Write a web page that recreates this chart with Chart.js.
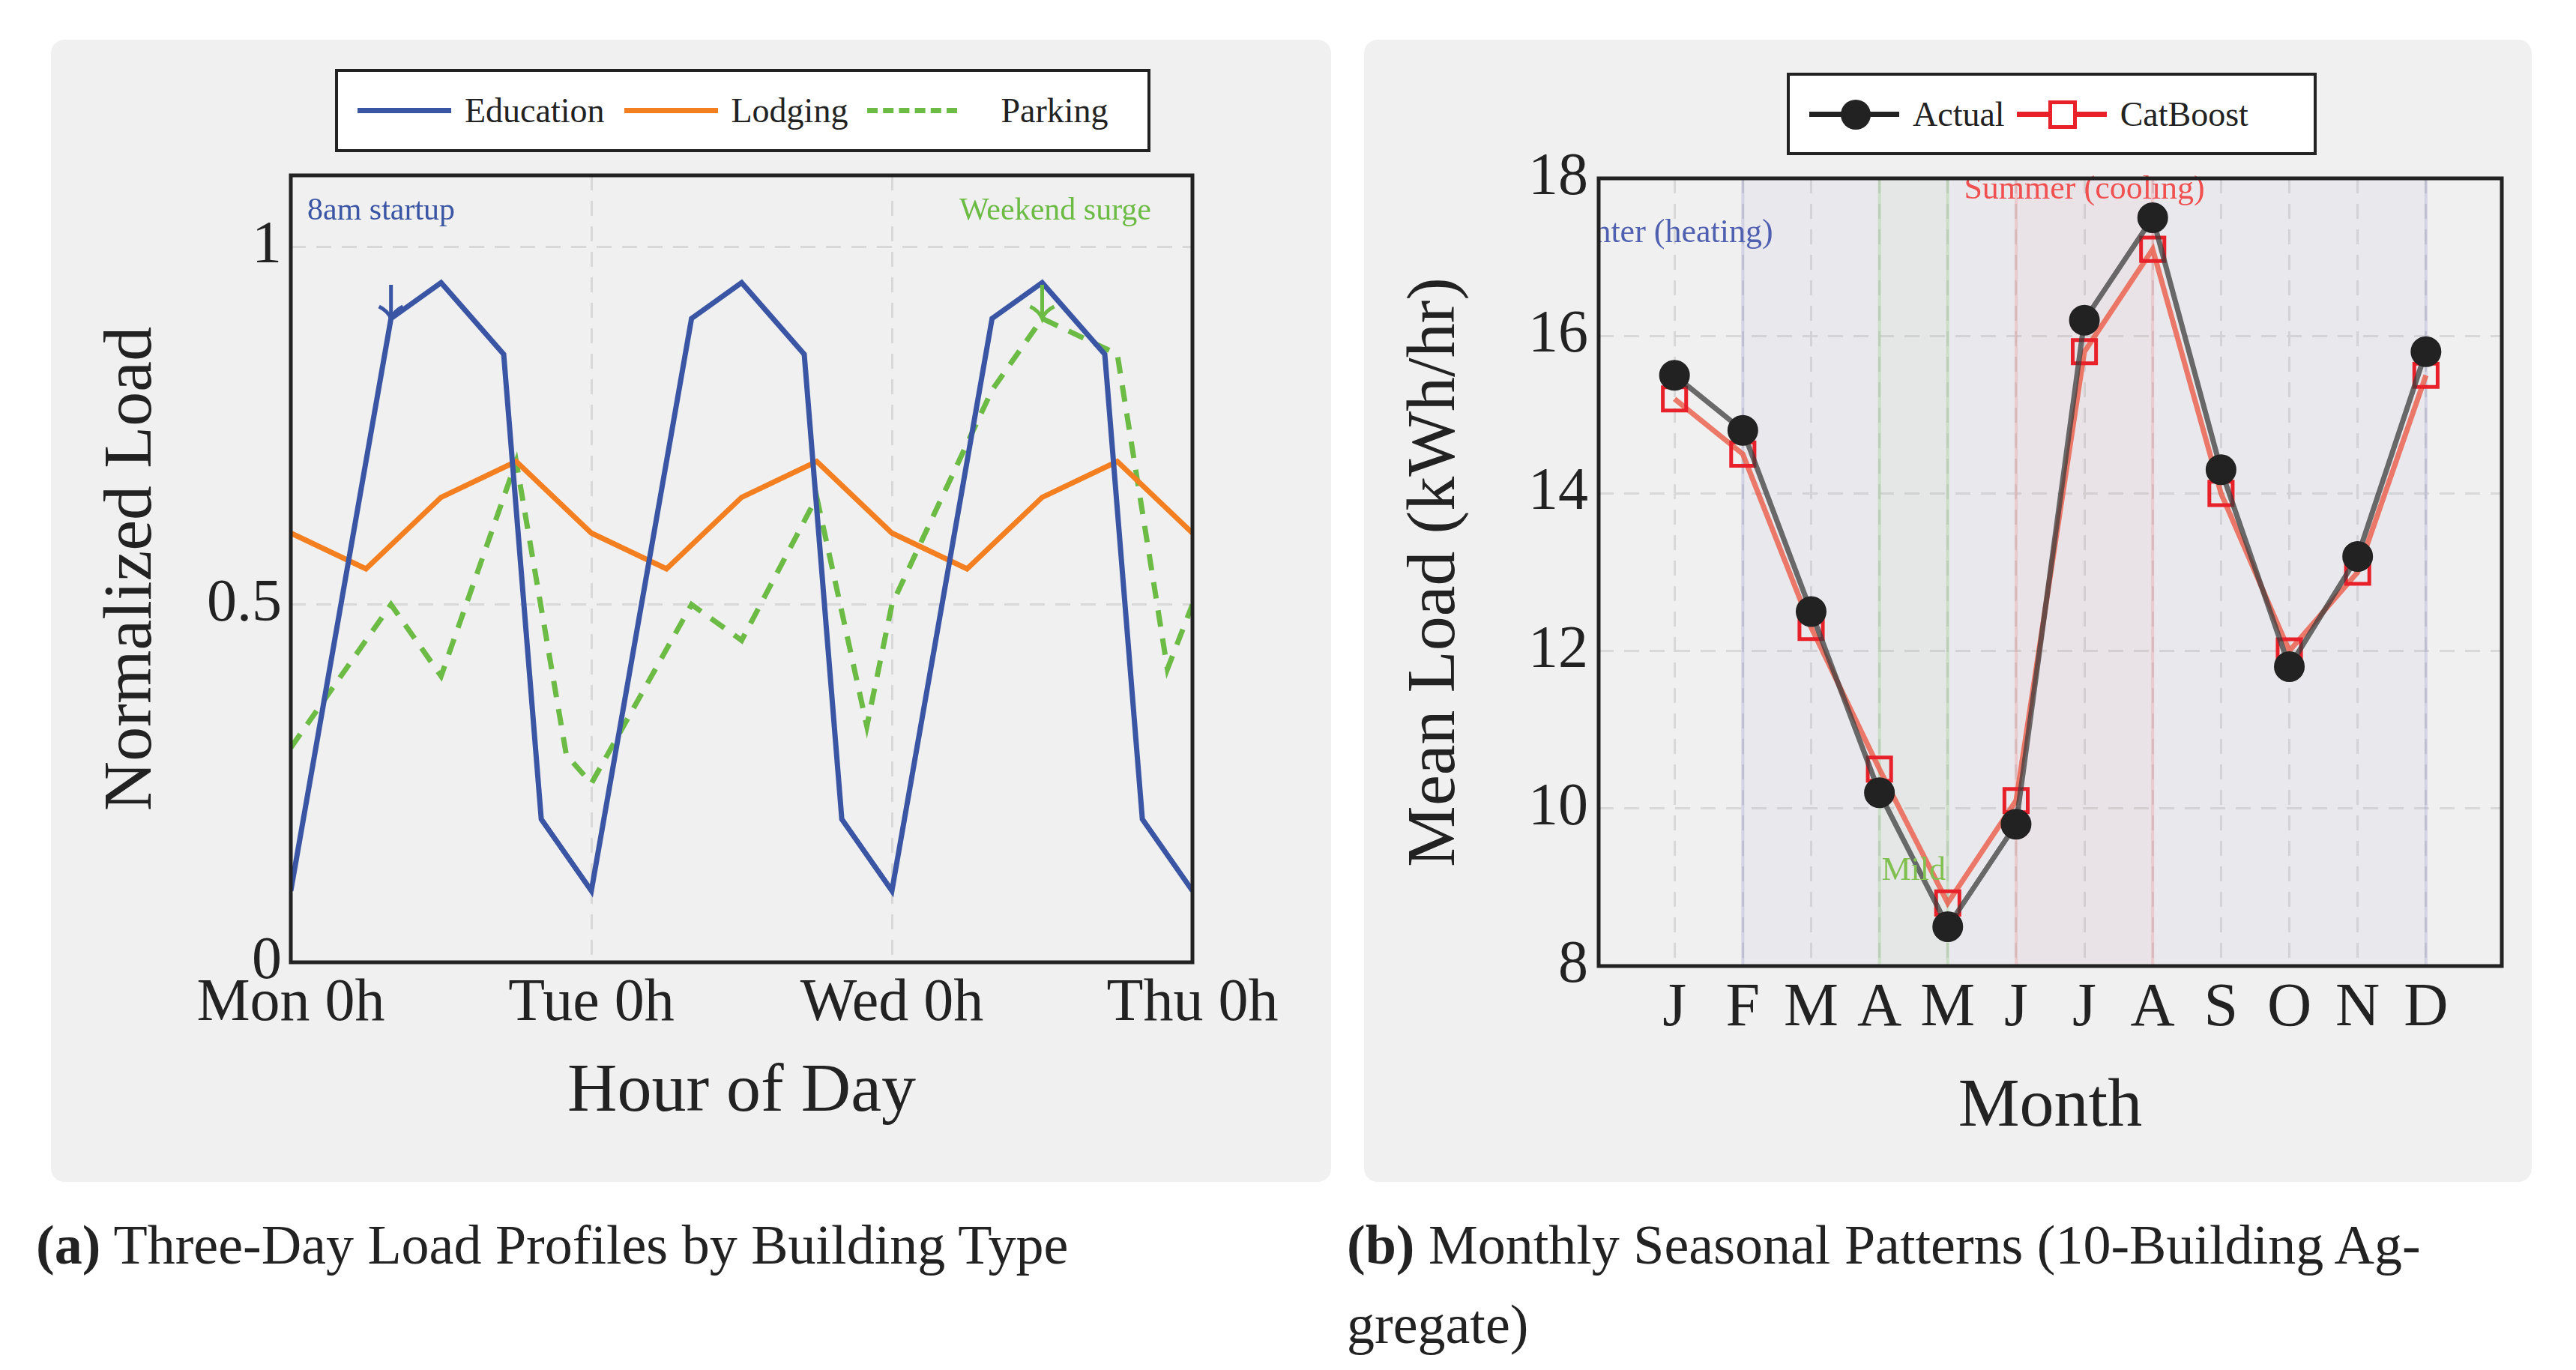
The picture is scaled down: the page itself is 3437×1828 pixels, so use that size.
<!DOCTYPE html>
<html><head><meta charset="utf-8">
<script src="https://cdn.jsdelivr.net/npm/chart.js@4.4.1/dist/chart.umd.min.js"></script>
<style>
body{margin:0;background:#fff;font-family:"Liberation Serif",serif;color:#222;}
.box{position:absolute;background:#f0f0f0;border-radius:18px;}
.box canvas{position:absolute;left:0;top:0;}
.legend{position:absolute;background:#fff;border:4px solid #222;box-sizing:border-box;display:flex;align-items:center;font-size:46px;}
.ln{display:inline-block;width:125px;height:0;border-top:7px solid;margin:0 18px 0 26px;position:relative;}
.cap{position:absolute;font-size:74px;line-height:106px;}
</style></head><body>
<div class="box" id="b1" style="left:68px;top:53px;width:1708px;height:1524px"><canvas id="c1"></canvas></div>
<div class="box" id="b2" style="left:1820px;top:53px;width:1558px;height:1524px"><canvas id="c2"></canvas></div>
<div class="legend" style="left:447px;top:92px;width:1088px;height:111px">
 <span class="ln" style="border-color:#3a55a4"></span>Education
 <span class="ln" style="border-color:#f47f20"></span>Lodging
 <span class="ln" style="border-top:7px dashed #6cbb45;width:120px"></span><span style="margin-left:40px">Parking</span>
</div>
<div class="legend" style="left:2384px;top:97px;width:707px;height:110px">
 <span class="ln" style="border-color:#222;width:120px"><span style="position:absolute;left:42px;top:-23px;width:40px;height:40px;border-radius:50%;background:#222"></span></span>Actual
 <span class="ln" style="border-color:#e8202a;width:120px;margin-left:16px"><span style="position:absolute;left:42px;top:-22px;width:28px;height:28px;border:5px solid #e8202a;background:#fff"></span></span>CatBoost
</div>
<div class="cap" style="left:48px;top:1608px"><b>(a)</b> Three-Day Load Profiles by Building Type</div>
<div class="cap" style="left:1797px;top:1608px"><b>(b)</b> Monthly Seasonal Patterns (10-Building Ag-<br>gregate)</div>
<script>
const eduHours = [0, 8, 12, 17, 20, 24, 32, 36, 41, 44, 48, 56, 60, 65, 68, 72];
const eduLoad = [0.1, 0.9, 0.95, 0.85, 0.2, 0.1, 0.9, 0.95, 0.85, 0.2, 0.1, 0.9, 0.95, 0.85, 0.2, 0.1];
const lodHours = [0, 6, 12, 18, 24, 30, 36, 42, 48, 54, 60, 66, 72];
const lodLoad = [0.6, 0.55, 0.65, 0.7, 0.6, 0.55, 0.65, 0.7, 0.6, 0.55, 0.65, 0.7, 0.6];
const parkHours = [0, 8, 12, 18, 22, 24, 32, 36, 42, 46, 48, 56, 60, 66, 70, 72];
const parkLoad = [0.3, 0.5, 0.4, 0.7, 0.29, 0.25, 0.5, 0.45, 0.65, 0.33, 0.5, 0.8, 0.9, 0.85, 0.41, 0.5];
const dayTicks = [0, 24, 48, 72];
const dayLabels = ['Mon 0h', 'Tue 0h', 'Wed 0h', 'Thu 0h'];
const loadTicks = [0, 0.5, 1];

const months = ['J', 'F', 'M', 'A', 'M', 'J', 'J', 'A', 'S', 'O', 'N', 'D'];
const actual = [15.5, 14.8, 12.5, 10.2, 8.5, 9.8, 16.2, 17.5, 14.3, 11.8, 13.2, 15.8];
const catboost = [15.2, 14.5, 12.3, 10.5, 8.8, 10.1, 15.8, 17.1, 14.0, 12.0, 13.0, 15.5];

const pts = (xs, ys) => xs.map((x, i) => ({x: x, y: ys[i]}));
const serif = '"Liberation Serif", serif';
Chart.defaults.font.family = serif;
Chart.defaults.color = '#222';
Chart.defaults.devicePixelRatio = 1;

function size(id, box) {
	const b = document.getElementById(box), c = document.getElementById(id);
	c.width = b.clientWidth; c.height = b.clientHeight;
	c.style.width = b.clientWidth + 'px'; c.style.height = b.clientHeight + 'px';
}
size('c1', 'b1'); size('c2', 'b2');

const frame = {
	id: 'frame',
	afterDraw(chart) {
		const a = chart.chartArea, ctx = chart.ctx;
		ctx.save(); ctx.strokeStyle = '#222'; ctx.lineWidth = 5;
		ctx.strokeRect(a.left, a.top, a.right - a.left, a.bottom - a.top);
		ctx.restore();
	}
};

function arrow(ctx, x, y, col) {
	ctx.save(); ctx.strokeStyle = col; ctx.lineWidth = 5;
	ctx.beginPath(); ctx.moveTo(x, y - 45); ctx.lineTo(x, y);
	ctx.moveTo(x - 16, y - 16); ctx.quadraticCurveTo(x - 4, y - 10, x, y); ctx.quadraticCurveTo(x + 4, y - 10, x + 16, y - 16);
	ctx.stroke(); ctx.restore();
}

const notes1 = {
	id: 'notes1',
	afterDatasetsDraw(chart) {
		const ctx = chart.ctx, a = chart.chartArea, sx = chart.scales.x, sy = chart.scales.y;
		ctx.save(); ctx.font = '42px ' + serif; ctx.textBaseline = 'middle';
		ctx.fillStyle = '#3a55a4'; ctx.textAlign = 'left';
		ctx.fillText('8am startup', a.left + 22, a.top + 48);
		ctx.fillStyle = '#6cbb45'; ctx.textAlign = 'right';
		ctx.fillText('Weekend surge', a.right - 55, a.top + 48);
		ctx.restore();
		arrow(ctx, sx.getPixelForValue(8), sy.getPixelForValue(0.9), '#3a55a4');
		arrow(ctx, sx.getPixelForValue(60), sy.getPixelForValue(0.9), '#6cbb45');
	}
};

const gridOpts = {color: '#d8d8d8', lineWidth: 3, tickLength: 0};
const dashBorder = {display: false, dash: [20, 14]};

new Chart(document.getElementById('c1'), {
	type: 'line',
	data: {
		datasets: [
			{label: 'Education', data: pts(eduHours, eduLoad), borderColor: '#3a55a4', borderWidth: 7, pointRadius: 0, tension: 0},
			{label: 'Lodging', data: pts(lodHours, lodLoad), borderColor: '#f47f20', borderWidth: 7, pointRadius: 0, tension: 0},
			{label: 'Parking', data: pts(parkHours, parkLoad), borderColor: '#6cbb45', borderWidth: 7, borderDash: [22, 16], pointRadius: 0, tension: 0}
		]
	},
	options: {
		responsive: false, animation: false,
		layout: {padding: {left: 50, top: 181, right: 185, bottom: 60}},
		plugins: {legend: {display: false}, tooltip: {enabled: false}},
		scales: {
			x: {
				type: 'linear', min: 0, max: 72,
				afterBuildTicks: s => { s.ticks = dayTicks.map(v => ({value: v})); },
				afterFit: s => { s.height = 233; },
				ticks: {font: {size: 80}, padding: 8, callback: v => dayLabels[dayTicks.indexOf(v)]},
				grid: gridOpts, border: dashBorder,
				title: {display: true, text: 'Hour of Day', font: {size: 92}, padding: {top: 0}}
			},
			y: {
				min: 0, max: 1.1,
				afterBuildTicks: s => { s.ticks = loadTicks.map(v => ({value: v})); },
				afterFit: s => { s.width = 270; },
				ticks: {font: {size: 80}, padding: 12, callback: v => String(v)},
				grid: gridOpts, border: dashBorder,
				title: {display: true, text: 'Normalized Load', font: {size: 92}, padding: {bottom: 20}}
			}
		}
	},
	plugins: [frame, notes1]
});

const bands = {
	id: 'bands',
	beforeDatasetsDraw(chart) {
		const ctx = chart.ctx, a = chart.chartArea, sx = chart.scales.x;
		const fill = (x0, x1, bg, edge) => {
			const p0 = sx.getPixelForValue(x0), p1 = sx.getPixelForValue(x1);
			ctx.fillStyle = bg; ctx.fillRect(p0, a.top, p1 - p0, a.bottom - a.top);
			ctx.strokeStyle = edge; ctx.lineWidth = 4;
			ctx.beginPath(); ctx.moveTo(p0, a.top); ctx.lineTo(p0, a.bottom); ctx.moveTo(p1, a.top); ctx.lineTo(p1, a.bottom); ctx.stroke();
		};
		ctx.save();
		fill(1, 11, 'rgba(120,120,200,0.05)', 'rgba(120,120,190,0.22)');
		fill(3, 4, 'rgba(160,210,140,0.08)', 'rgba(140,200,120,0.3)');
		fill(5, 7, 'rgba(240,140,140,0.07)', 'rgba(240,120,120,0.25)');
		ctx.restore();
	},
	afterDatasetsDraw(chart) {
		const ctx = chart.ctx, a = chart.chartArea, sx = chart.scales.x, sy = chart.scales.y;
		ctx.save();
		ctx.beginPath(); ctx.rect(a.left, a.top - 40, a.right - a.left, a.bottom - a.top + 40); ctx.clip();
		ctx.font = '44px ' + serif; ctx.textAlign = 'center'; ctx.textBaseline = 'middle';
		ctx.fillStyle = '#5060b0'; ctx.fillText('Winter (heating)', sx.getPixelForValue(-0.15), sy.getPixelForValue(17.3));
		ctx.fillStyle = '#f05050'; ctx.fillText('Summer (cooling)', sx.getPixelForValue(6), sy.getPixelForValue(17.85));
		ctx.fillStyle = '#80c050'; ctx.fillText('Mild', sx.getPixelForValue(3.5), sy.getPixelForValue(9.2));
		ctx.restore();
	}
};

new Chart(document.getElementById('c2'), {
	type: 'line',
	data: {
		datasets: [
			{label: 'Actual', data: actual.map((v, i) => ({x: i, y: v})), borderColor: 'rgba(60,60,60,0.75)', borderWidth: 7,
				pointRadius: 17, pointBackgroundColor: '#222', pointBorderColor: '#222', tension: 0},
			{label: 'CatBoost', data: catboost.map((v, i) => ({x: i, y: v})), borderColor: 'rgba(235,90,70,0.8)', borderWidth: 7,
				pointStyle: 'rect', pointRadius: 22, pointBorderWidth: 5, pointBackgroundColor: 'rgba(0,0,0,0)', pointBorderColor: '#e8202a', tension: 0}
		]
	},
	options: {
		responsive: false, animation: false,
		layout: {padding: {left: 37, top: 185, right: 40, bottom: 40}},
		plugins: {legend: {display: false}, tooltip: {enabled: false}},
		scales: {
			x: {
				type: 'linear', min: -1.11, max: 12.11,
				afterBuildTicks: s => { s.ticks = months.map((m, i) => ({value: i})); },
				afterFit: s => { s.height = 248; },
				ticks: {font: {size: 82}, padding: 8, callback: v => months[v]},
				grid: gridOpts, border: dashBorder,
				title: {display: true, text: 'Month', font: {size: 92}, padding: {top: 14}}
			},
			y: {
				min: 8, max: 18,
				ticks: {font: {size: 80}, padding: 14, stepSize: 2},
				afterFit: s => { s.width = 276; },
				grid: gridOpts, border: dashBorder,
				title: {display: true, text: 'Mean Load (kWh/hr)', font: {size: 92}, padding: {bottom: 10}}
			}
		}
	},
	plugins: [bands, frame]
});
</script>
</body></html>
